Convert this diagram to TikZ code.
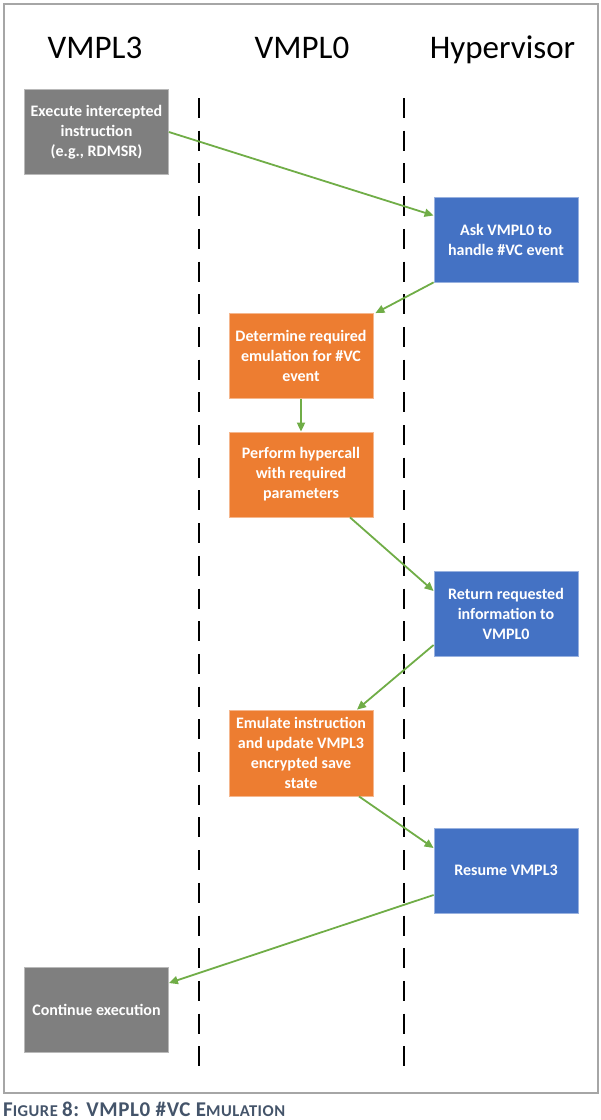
\documentclass[tikz,border=0pt]{standalone}
\usepackage{fontspec}
\setmainfont{Carlito}
\newfontfamily\capfont[LetterSpace=3]{Carlito}
\usetikzlibrary{arrows.meta}
\definecolor{boxgrey}{HTML}{7F7F7F}
\definecolor{boxblue}{HTML}{4472C4}
\definecolor{boxorange}{HTML}{ED7D31}
\definecolor{flowgreen}{HTML}{70AD47}
\definecolor{framegrey}{HTML}{A6A6A6}
\definecolor{captionblue}{HTML}{44546A}
\tikzset{
  stepbox/.style={minimum width=144pt, minimum height=85pt, inner sep=2pt, align=center,
    text=white, font=\bfseries\fontsize{16}{20}\selectfont, line width=0.8pt},
  greybox/.style={stepbox, fill=boxgrey, draw=boxgrey!55!white},
  bluebox/.style={stepbox, fill=boxblue, draw=boxblue!55!white},
  orangebox/.style={stepbox, fill=boxorange, draw=boxorange!55!white},
  flow/.style={draw=flowgreen, line width=1.8pt, -{Triangle[length=9pt,width=8pt]}},
  lane/.style={draw=black, line width=2.2pt, dash pattern=on 20pt off 12.7pt},
  lanetitle/.style={anchor=base, font=\fontsize{33}{40}\selectfont, inner sep=0pt}
}
\begin{document}
\begin{tikzpicture}[x=1pt,y=-1pt]
\useasboundingbox (0,0) rectangle (601,1120);
\draw[framegrey, line width=1.2pt] (4,4) rectangle (598,1093);

\node[lanetitle] (t3) at (95,58) {VMPL3};
\node[lanetitle] (t0) at (302,58) {VMPL0};
\node[lanetitle] (th) at (502.5,58) {Hypervisor};

\coordinate (l1t) at (199,98);
\coordinate (l1b) at (199,1074);
\coordinate (l2t) at (404,98);
\coordinate (l2b) at (404,1074);
\draw[lane] (l1t) -- (l1b);
\draw[lane] (l2t) -- (l2b);

\node[greybox] (g1) at (96.5,132) {Execute intercepted\\instruction\\(e.g., RDMSR)};
\node[bluebox] (b1) at (506,239.5) {Ask VMPL0 to\\handle \#VC event};
\node[orangebox] (o1) at (301,356) {Determine required\\emulation for \#VC\\event};
\node[orangebox] (o2) at (301,474.5) {Perform hypercall\\with required\\parameters};
\node[bluebox] (b2) at (506,613.5) {Return requested\\information to\\VMPL0};
\node[orangebox, minimum height=86pt] (o3) at (301,753) {Emulate instruction\\and update VMPL3\\encrypted save\\state};
\node[bluebox] (b3) at (506,870.5) {Resume VMPL3};
\node[greybox] (g2) at (96.5,1010) {Continue execution};

\draw[flow] (g1.east) -- ([yshift=24pt]b1.west);
\draw[flow] (b1.south west) -- ([xshift=2pt]o1.north east);
\draw[flow] (o1.south) -- (o2.north);
\draw[flow] ([xshift=49pt]o2.south) -- ([yshift=22.5pt]b2.west);
\draw[flow] ([yshift=-31.5pt]b2.west) -- ([xshift=56pt]o3.north);
\draw[flow] ([xshift=58pt]o3.south) -- ([yshift=22.5pt]b3.west);
\draw[flow] ([yshift=-24.5pt]b3.west) -- ([yshift=27pt]g2.east);

\node[anchor=base west, inner sep=0pt, text=captionblue, font=\capfont\bfseries] (cap) at (3,1116.5)
  {\fontsize{21}{24}\selectfont F\fontsize{16.5}{24}\selectfont IGURE \fontsize{21}{24}\selectfont 8: VMPL0 \#VC E\fontsize{16.5}{24}\selectfont MULATION};
\end{tikzpicture}
\end{document}
